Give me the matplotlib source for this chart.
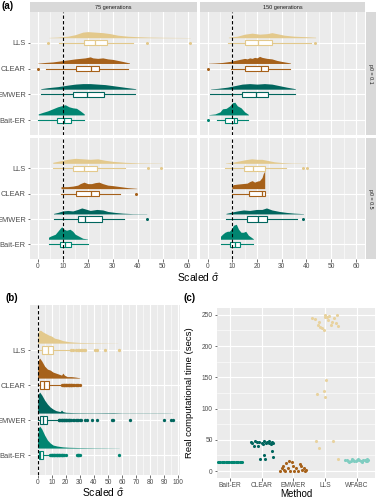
import numpy as np
import matplotlib
matplotlib.use("Agg")
import matplotlib.pyplot as plt

plt.rcParams["font.family"] = ["Liberation Sans", "DejaVu Sans"]
plt.rcParams["mathtext.fontset"] = "custom"
plt.rcParams["mathtext.rm"] = "Liberation Sans"
plt.rcParams["mathtext.it"] = "Liberation Sans"

# ---------------- data ----------------
methods = ["Bait-ER", "EMWER", "CLEAR", "LLS"]          # bottom -> top
cols_ab = {"Bait-ER": "#018571", "EMWER": "#01665E", "CLEAR": "#A6611A", "LLS": "#E3C98C"}

facet_cols = ["75 generations", "150 generations"]
facet_rows = ["p0 = 0.1", "p0 = 0.5"]

# box stats: (whisker low, q1, median, q3, whisker high)
box_75_01 = {"LLS": (8.6, 18.5, 23, 27.8, 38), "CLEAR": (3.2, 15.3, 21.3, 24.4, 36.2),
             "EMWER": (1.2, 14.2, 19.8, 26.6, 38.9), "Bait-ER": (0.2, 7.6, 10.3, 13.3, 18.6)}
box_150_01 = {"LLS": (8.2, 15.1, 20.2, 26, 41.7), "CLEAR": (9.4, 15.1, 21.5, 24.4, 33.5),
              "EMWER": (0.9, 14, 19.5, 24.4, 35.5), "Bait-ER": (3.6, 7.2, 10.5, 11.8, 16.5)}
box_75_05 = {"LLS": (6, 14, 18.6, 23.8, 35), "CLEAR": (9.3, 15.3, 21.3, 24.5, 33),
             "EMWER": (6.3, 15.9, 18.9, 25.6, 34.5), "Bait-ER": (4.3, 8.9, 10.9, 13.3, 19.9)}
box_150_05 = {"LLS": (7.2, 14.9, 18.5, 23.1, 31.7), "CLEAR": (9.8, 16.9, 21.8, 23.1, 23.1),
              "EMWER": (7.4, 15.8, 20.2, 24.2, 36.1), "Bait-ER": (5.2, 8.9, 11.2, 12.9, 18.5)}

out_75_01 = {"LLS": [4.2, 43.6, 60.7], "CLEAR": [0], "EMWER": [], "Bait-ER": []}
out_150_01 = {"LLS": [43.3], "CLEAR": [0.1], "EMWER": [], "Bait-ER": [0.1]}
out_75_05 = {"LLS": [44, 49.3], "CLEAR": [39.3], "EMWER": [43.6], "Bait-ER": []}
out_150_05 = {"LLS": [38.4, 40.4], "CLEAR": [], "EMWER": [38.8], "Bait-ER": []}

# density profiles (x, relative height)
dx_75_01 = {"LLS": [4.5, 8, 12, 15, 18, 20, 23, 26, 29, 32, 36, 40, 45, 50, 55, 61],
            "CLEAR": [0, 3, 6, 9, 12, 15, 17, 19, 21, 22, 24, 26, 28, 30, 33, 36.7],
            "EMWER": [1.2, 4, 8, 12, 15, 18, 21, 24, 27, 30, 33, 36, 39.2],
            "Bait-ER": [0.2, 2, 4, 6, 8, 9.5, 11, 12.5, 14, 15.5, 17, 18.6]}
dy_75_01 = {"LLS": [0.3, 0.6, 1.5, 3, 5.5, 6, 5.5, 5, 4, 2.5, 1.5, 1, 0.6, 0.4, 0.3, 0.2],
            "CLEAR": [0.3, 1, 1.5, 2.5, 3.5, 4.5, 5, 5.5, 6.5, 5.5, 5, 5.5, 4.5, 4, 2.5, 0.5],
            "EMWER": [0.5, 1.5, 2.5, 4, 5, 5.5, 5.5, 5, 4.5, 3.5, 2.5, 1.5, 0.5],
            "Bait-ER": [1, 2.5, 4, 6, 8, 9, 10, 8, 7, 6.5, 4, 1]}
dx_150_01 = {"LLS": [8.4, 12, 15, 18, 21, 24, 26, 28, 31, 35, 40, 43.7],
             "CLEAR": [0.3, 3, 6, 9, 12, 15, 16, 17, 18, 19, 20, 21, 22, 24, 26, 28, 30, 33.5],
             "EMWER": [1.2, 4, 8, 11, 14, 17, 20, 23, 26, 29, 32, 35.5],
             "Bait-ER": [0.5, 3, 5, 6, 7.5, 9, 10, 11, 12, 13.5, 15, 16.5]}
dy_150_01 = {"LLS": [0.5, 1.5, 3.5, 4.5, 3.5, 4, 5, 4, 2.5, 1.5, 1, 0.5],
             "CLEAR": [0.2, 0.5, 1, 2, 3.5, 5, 4.5, 5.5, 5, 6, 5.5, 7, 6, 5, 4.5, 3, 2, 0.5],
             "EMWER": [0.3, 0.8, 2, 3.5, 5, 5.5, 5, 5.5, 5, 3.5, 2, 0.5],
             "Bait-ER": [0.3, 1, 3, 6, 6.5, 9, 12, 12.5, 9, 7, 3, 0.5]}
dx_75_05 = {"LLS": [6, 9, 12, 15, 18, 21, 24, 27, 30, 35, 40, 45, 49.6],
            "CLEAR": [9.3, 10, 12, 14, 16, 17, 18.5, 20, 21.5, 23, 24.5, 26, 28, 30, 33, 36, 39.6],
            "EMWER": [6.3, 8, 10, 12, 14, 16, 17.6, 19, 21, 23.6, 26, 28, 31, 34, 38, 43.6],
            "Bait-ER": [4.3, 5, 6, 7, 8, 9, 9.6, 10.5, 11.5, 12.9, 14, 15, 16.5, 18, 19.9]}
dy_75_05 = {"LLS": [1, 2.5, 4, 5, 4.5, 4, 4.5, 3, 2, 1, 0.5, 0.3, 0.2],
            "CLEAR": [2, 2, 2, 2.5, 3.5, 5, 6.5, 5, 5, 6, 6.5, 5, 3.5, 3, 2, 1, 0.3],
            "EMWER": [0.5, 1.5, 3, 3.5, 3, 4.5, 6, 5, 3.5, 4.5, 4, 2.5, 1.5, 0.8, 0.3, 0.2],
            "Bait-ER": [2, 3, 4, 5, 8, 11, 12.5, 10, 9, 10, 8, 5, 3, 1, 0.3]}
dx_150_05 = {"LLS": [7.2, 10, 13, 15, 17.8, 20, 22, 24, 27, 30, 34, 40.4],
             "CLEAR": [9.8, 10.5, 12, 14, 16, 17, 18, 19, 20, 21, 22, 22.5, 23.1],
             "EMWER": [7.4, 10, 12, 14.5, 17, 19.8, 22, 23.8, 26, 29, 32, 35, 38.8],
             "Bait-ER": [5.2, 6, 7, 8, 8.8, 9.5, 10.5, 11.6, 12.5, 13.5, 14.5, 15.4, 16.5, 18.5]}
dy_150_05 = {"LLS": [0.3, 1, 2.5, 3.5, 4.5, 4, 4, 3, 1.5, 0.8, 0.3, 0.2],
             "CLEAR": [3, 4, 4.5, 5, 5.5, 7, 8, 6.5, 7.5, 8, 11, 15, 17.5],
             "EMWER": [0.5, 2, 3, 4, 3.5, 4.5, 4.5, 6, 4, 2.5, 1.5, 0.8, 0.3],
             "Bait-ER": [3, 5, 7, 8, 8, 10, 14, 15, 10, 7, 7, 8, 4, 0.5]}

# panel (b)
box_b = {"LLS": (0, 3.3, 7.1, 10.7, 22), "CLEAR": (0, 1.6, 4.7, 8, 17),
         "EMWER": (0, 1.6, 3.5, 6.8, 14), "Bait-ER": (0, 0.7, 1.6, 4, 8.9)}
out_b = {"LLS": [24, 25.5, 27, 28.5, 29.5, 30.5, 31.5, 33, 34, 41, 42, 48, 58],
         "CLEAR": [17.5, 18, 18.5, 19, 19.5, 20, 20.5, 21, 21.5, 22, 22.5, 23, 23.5, 24,
                   24.5, 25, 26, 27, 28, 29, 30],
         "EMWER": [15, 15.5, 16, 16.5, 17, 17.5, 18, 18.5, 19, 19.5, 20, 20.5, 21, 21.5, 22,
                   22.5, 23, 24, 25, 26, 27, 28, 29, 30, 31, 33.5, 35, 38.4, 42, 52.6, 53.5,
                   65.5, 90, 94.5, 96],
         "Bait-ER": [9, 9.5, 10, 10.5, 11, 11.5, 12, 12.5, 13, 13.5, 14, 14.5, 15, 15.5, 16,
                     16.5, 17, 17.5, 18, 18.5, 20.5, 28, 28.5, 29, 29.5, 30, 58]}
dx_b = {"LLS": [0, 0.5, 2, 4, 6, 8, 10, 12, 15, 18, 22, 26, 30, 40, 50, 57],
        "CLEAR": [0, 0.5, 1.5, 3, 5, 7, 9, 11, 13, 15, 17, 18, 19, 21, 24, 27, 30],
        "EMWER": [0, 0.5, 1.5, 3, 5, 7, 9, 11, 13, 16, 17, 18, 20, 25, 30, 40, 54, 60, 70,
                  80, 90, 96],
        "Bait-ER": [0, 0.5, 1.5, 3, 5, 7, 9, 11, 14, 18, 22, 30, 40, 50, 58]}
dy_b = {"LLS": [3, 12, 13, 11, 9.5, 8, 7, 5, 4, 2.5, 1.5, 1, 0.7, 0.4, 0.2, 0.1],
        "CLEAR": [5, 18, 20, 17, 12, 9, 8, 6, 5, 4, 3, 5, 3, 1.5, 1.5, 1, 0.3],
        "EMWER": [5, 19, 21, 18, 13, 9, 6, 4, 2.5, 1.5, 3, 1.5, 0.8, 0.5, 0.4, 0.3, 0.5,
                  0.2, 0.2, 0.2, 0.2, 0.1],
        "Bait-ER": [8, 20, 22, 19, 13, 8, 5, 3, 2, 1.2, 0.8, 0.5, 0.3, 0.2, 0.1]}

# panel (c): run times (secs) with jitter offsets
methods_c = ["Bait-ER", "CLEAR", "EMWER", "LLS", "WFABC"]
cols_c = {"Bait-ER": "#018571", "CLEAR": "#01665E", "EMWER": "#A6611A",
          "LLS": "#E8D29E", "WFABC": "#80CDC1"}
time_bait = [15.2, 14.8, 15.0, 14.9, 15.1, 15.0, 14.7, 15.2, 15.0, 14.9,
             15.1, 15.0, 14.8, 15.2, 15.0, 14.9, 15.1, 15.0, 14.8, 15.0]
jit_bait = [-0.38, -0.34, -0.3, -0.26, -0.22, -0.18, -0.14, -0.1, -0.06, -0.02,
            0.02, 0.06, 0.1, 0.14, 0.18, 0.22, 0.26, 0.3, 0.34, 0.38]
time_clear = [47, 40.6, 48, 40, 47, 45.4, 43.3, 48, 44.3, 46, 48.6, 42.7, 47, 45.4,
              25.6, 19.2, 19.2, 32.6, 21.9, 47, 44.3, 44.3]
jit_clear = [-0.33, -0.25, -0.2, -0.11, -0.09, 0, 0.05, 0.08, 0.13, 0.18, 0.22, 0.29,
             0.33, 0.37, 0.08, -0.07, 0.09, 0.33, 0.37, -0.16, -0.3, 0.24]
time_emwer = [0.5, 4.3, 8.5, 0.5, 12.3, 4.3, 16, 0.5, 15, 8, 0.5, 0.5, 10.7, 8.5,
              1.6, 4.3, 0.5, 1.6, 1.6, 4.3]
jit_emwer = [-0.42, -0.37, -0.33, -0.26, -0.24, -0.18, -0.15, -0.11, -0.04, -0.02,
             0.03, 0.14, 0.2, 0.25, 0.28, 0.33, 0.36, 0.41, -0.29, 0.09]
time_lls = [244.7, 243, 234, 239, 231, 228.6, 226, 247, 250, 246, 242, 248, 234, 239,
            244.7, 236.6, 250, 232, 145.8, 123.4, 128.7, 119, 48, 36.3, 48, 18.7]
jit_lls = [-0.4, -0.33, -0.24, -0.2, -0.16, -0.11, -0.05, -0.02, 0, 0.05, 0.09, 0.13,
           0.18, 0.22, 0.27, 0.33, 0.38, 0.41, 0.02, -0.27, -0.05, 0, -0.29, -0.2, 0.25, 0.4]
time_wfabc = [18, 17, 16, 15, 16.5, 18.5, 17.5, 15.5, 16, 18, 19, 17, 16, 15, 18,
              17.5, 16.5, 15.5, 18.5, 17]
jit_wfabc = [-0.36, -0.32, -0.28, -0.24, -0.2, -0.16, -0.12, -0.08, -0.04, 0,
             0.04, 0.08, 0.12, 0.16, 0.2, 0.24, 0.28, 0.31, 0.33, 0.35]

# ---------------- drawing ----------------
W, H = 376, 500
fig = plt.figure(figsize=(W / 100, H / 100), dpi=100)
BG = "#EBEBEB"
STRIP = "#D9D9D9"
TXT = "#4D4D4D"


def px_axes(x0, y0, x1, y1, **kw):
    return fig.add_axes([x0 / W, 1 - y1 / H, (x1 - x0) / W, (y1 - y0) / H], **kw)


def style_axes(ax):
    ax.set_facecolor(BG)
    for s in ax.spines.values():
        s.set_visible(False)
    ax.set_axisbelow(True)
    ax.grid(which="major", color="white", lw=0.8)
    ax.grid(which="minor", color="white", lw=0.4)
    ax.tick_params(which="major", length=1.8, width=0.5, color="#333333", pad=1.2,
                   labelcolor=TXT)
    ax.tick_params(which="minor", length=0)


def raincloud(ax, box, outl, dx, dy, hscale, base, bh, ms):
    for i, m in enumerate(methods):
        pos = i + 1
        c = cols_ab[m]
        x = np.array(dx[m])
        h = np.array(dy[m]) * hscale
        ax.fill_between(x, pos + base, pos + base + h, color=c, lw=0, zorder=2)
        wlo, q1, med, q3, whi = box[m]
        st = dict(whislo=wlo, q1=q1, med=med, q3=q3, whishi=whi, fliers=outl[m])
        ax.bxp([st], positions=[pos], widths=2 * bh, orientation="horizontal",
               patch_artist=True, showcaps=False, manage_ticks=False,
               boxprops=dict(facecolor="white", edgecolor=c, lw=0.8),
               medianprops=dict(color=c, lw=0.9),
               whiskerprops=dict(color=c, lw=0.8),
               flierprops=dict(marker="o", mfc=c, mec=c, ms=ms, mew=0),
               zorder=3)


# panel (a)
col_x = [(30, 197), (200, 365)]
row_y = [(12, 135), (138, 259)]
boxes = [[box_75_01, box_150_01], [box_75_05, box_150_05]]
outs = [[out_75_01, out_150_01], [out_75_05, out_150_05]]
dxs = [[dx_75_01, dx_150_01], [dx_75_05, dx_150_05]]
dys = [[dy_75_01, dy_150_01], [dy_75_05, dy_150_05]]

for r in range(2):
    for c in range(2):
        ax = px_axes(col_x[c][0], row_y[r][0], col_x[c][1], row_y[r][1])
        style_axes(ax)
        raincloud(ax, boxes[r][c], outs[r][c], dxs[r][c], dys[r][c],
                  1 / 25.3, 0.2, 0.1, 2.2)
        ax.axvline(10, color="black", ls=(0, (3, 2)), lw=0.8, zorder=4)
        ax.set_xlim(-3.1, 63.7)
        ax.set_ylim(0.42, 5.2)
        ax.set_xticks(np.arange(0, 61, 10))
        ax.set_xticks(np.arange(5, 61, 10), minor=True)
        ax.set_yticks(range(1, 5))
        if c == 0:
            ax.set_yticklabels(methods, fontsize=5.4)
        else:
            ax.set_yticklabels([])
            ax.tick_params(axis="y", length=0)
        if r == 1:
            ax.tick_params(axis="x", labelsize=4.8)
        else:
            ax.set_xticklabels([])
            ax.tick_params(axis="x", length=0)
    # right strip
    sax = px_axes(366, row_y[r][0], 376, row_y[r][1])
    sax.set_facecolor(STRIP)
    sax.set_xticks([])
    sax.set_yticks([])
    for s in sax.spines.values():
        s.set_visible(False)
    sax.text(0.45, 0.5, facet_rows[r], rotation=-90, ha="center", va="center",
             fontsize=3.8, color="#1A1A1A", transform=sax.transAxes)

for c in range(2):
    sax = px_axes(col_x[c][0], 2, col_x[c][1], 12)
    sax.set_facecolor(STRIP)
    sax.set_xticks([])
    sax.set_yticks([])
    for s in sax.spines.values():
        s.set_visible(False)
    sax.text(0.5, 0.5, facet_cols[c], ha="center", va="center", fontsize=4,
             color="#1A1A1A", transform=sax.transAxes)

fig.text(2 / W, 1 - 6 / H, "(a)", fontsize=7, fontweight="bold", va="center")
fig.text(198 / W, 1 - 278 / H, r"Scaled $\hat{\sigma}$", fontsize=7.5,
         ha="center", va="center")

# panel (b)
axb = px_axes(30, 305, 180, 475)
style_axes(axb)
raincloud(axb, box_b, out_b, dx_b, dy_b, 1 / 35, 0.2, 0.12, 2.4)
axb.axvline(0, color="black", ls=(0, (3, 2)), lw=0.8, zorder=4)
axb.set_xlim(-5.4, 101.2)
axb.set_ylim(0.43, 5.29)
axb.set_xticks(np.arange(0, 101, 10))
axb.set_xticks(np.arange(5, 100, 10), minor=True)
axb.set_yticks(range(1, 5))
axb.set_yticklabels(methods, fontsize=5.4)
axb.tick_params(axis="x", labelsize=4.8)
fig.text(5 / W, 1 - 298 / H, "(b)", fontsize=7, fontweight="bold", va="center")
fig.text(103 / W, 1 - 493 / H, r"Scaled $\hat{\sigma}$", fontsize=7.5,
         ha="center", va="center")

# panel (c)
axc = px_axes(217, 308, 375, 478)
style_axes(axc)
times = {"Bait-ER": time_bait, "CLEAR": time_clear, "EMWER": time_emwer,
         "LLS": time_lls, "WFABC": time_wfabc}
jits = {"Bait-ER": jit_bait, "CLEAR": jit_clear, "EMWER": jit_emwer,
        "LLS": jit_lls, "WFABC": jit_wfabc}
for i, m in enumerate(methods_c):
    xs = i + 1 + np.array(jits[m])
    axc.scatter(xs, times[m], s=5, color=cols_c[m], lw=0, zorder=3)
axc.set_xlim(0.59, 5.57)
axc.set_ylim(-11.2, 261)
axc.set_xticks(range(1, 6))
axc.set_xticklabels(methods_c, fontsize=4.8)
axc.set_yticks(np.arange(0, 251, 50))
axc.set_yticks(np.arange(25, 250, 50), minor=True)
axc.tick_params(axis="y", labelsize=4.8)
fig.text(184 / W, 1 - 298 / H, "(c)", fontsize=7, fontweight="bold", va="center")
fig.text(190 / W, 1 - 393 / H, "Real computational time (secs)", fontsize=6.8,
         rotation=90, ha="center", va="center")
fig.text(296 / W, 1 - 494 / H, "Method", fontsize=7, ha="center", va="center")

fig.savefig("out.png", dpi=100)
